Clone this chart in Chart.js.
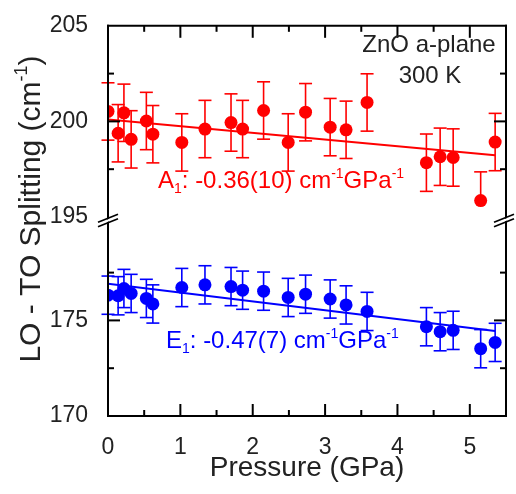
<!DOCTYPE html>
<html>
<head>
<meta charset="utf-8">
<script src="https://cdn.jsdelivr.net/npm/chart.js@4"></script>
<style>
  html, body { margin: 0; padding: 0; background: #fff; }
  #wrap { width: 516px; height: 494px; }
</style>
</head>
<body>
<div id="wrap"><canvas id="chart" width="516" height="494"></canvas></div>
<script>
// Pressure points (GPa), same for both modes
const pressure = [0.00, 0.14, 0.22, 0.32, 0.53, 0.62, 1.02, 1.34, 1.70, 1.86, 2.15,
                  2.49, 2.73, 3.07, 3.29, 3.58, 4.40, 4.59, 4.77, 5.15, 5.35];

// A1 LO-TO splitting (cm-1) and error
const a1Split = [200.52, 199.38, 200.45, 199.06, 200.02, 199.33, 198.90, 199.60, 199.94, 199.60, 200.57,
                 198.90, 200.48, 199.70, 199.56, 200.99, 197.84, 198.15, 198.11, 195.86, 198.92];
const a1Err = [1.5, 1.5, 1.5, 1.5, 1.5, 1.5, 1.5, 1.5, 1.5, 1.5, 1.5,
               1.5, 1.5, 1.5, 1.5, 1.5, 1.5, 1.5, 1.5, 1.5, 1.5];

// E1 LO-TO splitting (cm-1) and error
const e1Split = [176.32, 176.29, 176.67, 176.41, 176.15, 175.86, 176.72, 176.86, 176.77, 176.58, 176.53,
                 176.20, 176.37, 176.12, 175.81, 175.47, 174.67, 174.41, 174.48, 173.52, 173.85];
const e1Err = [1.0, 1.0, 1.0, 1.0, 1.0, 1.0, 1.0, 1.0, 1.0, 1.0, 1.0,
               1.0, 1.0, 1.0, 1.0, 1.0, 1.0, 1.0, 1.0, 1.0, 1.0];

// Linear fits (end points)
const fitPressure = [0, 5.35];
const a1Fit = [200.10, 198.23];
const e1Fit = [176.92, 174.45];

// Tick values
const xTicks = [0, 0.5, 1, 1.5, 2, 2.5, 3, 3.5, 4, 4.5, 5, 5.5];
const yTopTicks = [195, 197.5, 200, 202.5, 205];
const yBotTicks = [170, 172.5, 175, 177.5];

// Texts
const sampleLabel = ['ZnO a-plane', '300 K'];
const a1Label = [['A', ''], ['1', 'sub'], [': -0.36(10) cm', ''], ['-1', 'sup'], ['GPa', ''], ['-1', 'sup']];
const e1Label = [['E', ''], ['1', 'sub'], [': -0.47(7) cm', ''], ['-1', 'sup'], ['GPa', ''], ['-1', 'sup']];
const yTitle = [['LO - TO Splitting (cm', ''], ['-1', 'sup'], [')', '']];

const FAMILY = '"Liberation Sans", Arial, sans-serif';
Chart.defaults.font.family = FAMILY;
Chart.defaults.color = '#222';

const pts = (xs, ys) => xs.map((x, i) => ({ x: x, y: ys[i] }));

function drawRich(ctx, parts, x, y, size, color, align) {
  const fontFor = m => (m ? Math.round(size * 0.6) : size) + 'px ' + FAMILY;
  let w = 0;
  parts.forEach(([t, m]) => { ctx.font = fontFor(m); w += ctx.measureText(t).width; });
  let cx = align === 'center' ? x - w / 2 : x;
  ctx.fillStyle = color;
  ctx.textAlign = 'left';
  ctx.textBaseline = 'alphabetic';
  parts.forEach(([t, m]) => {
    ctx.font = fontFor(m);
    const dy = m === 'sup' ? -size * 0.42 : (m === 'sub' ? size * 0.22 : 0);
    ctx.fillText(t, cx, y + dy);
    cx += ctx.measureText(t).width;
  });
}

function line(ctx, x1, y1, x2, y2) {
  ctx.beginPath();
  ctx.moveTo(x1, y1);
  ctx.lineTo(x2, y2);
  ctx.stroke();
}

// error bars under the points; a half that leaves its axis segment is left out
const errorBars = {
  id: 'errorBars',
  beforeDatasetsDraw(chart) {
    const ctx = chart.ctx;
    chart.data.datasets.forEach(ds => {
      if (!ds.errors) return;
      const ys = chart.scales[ds.yAxisID];
      const xs = chart.scales.x;
      ctx.save();
      ctx.strokeStyle = ds.backgroundColor;
      ctx.lineWidth = 1.6;
      ds.data.forEach((p, j) => {
        const px = xs.getPixelForValue(p.x);
        const py = ys.getPixelForValue(p.y);
        const hi = p.y + ds.errors[j];
        const lo = p.y - ds.errors[j];
        if (hi <= ys.max) {
          const yHi = ys.getPixelForValue(hi);
          line(ctx, px, yHi, px, py);
          line(ctx, px - 6.5, yHi, px + 6.5, yHi);
        }
        if (lo >= ys.min) {
          const yLo = ys.getPixelForValue(lo);
          line(ctx, px, py, px, yLo);
          line(ctx, px - 6.5, yLo, px + 6.5, yLo);
        }
      });
      ctx.restore();
    });
  }
};

// frame, inward ticks, axis break, labels
const frame = {
  id: 'frame',
  afterDraw(chart) {
    const ctx = chart.ctx;
    const { left, right, top, bottom } = chart.chartArea;
    const xs = chart.scales.x, yt = chart.scales.yTop, yb = chart.scales.yBot;
    ctx.save();
    ctx.strokeStyle = '#000';
    ctx.lineWidth = 2;
    ctx.lineCap = 'square';
    line(ctx, left, top, right, top);
    line(ctx, left, bottom, right, bottom);
    line(ctx, left, top, left, bottom);
    line(ctx, right, top, right, bottom);
    ctx.lineCap = 'butt';
    xTicks.forEach(v => {
      if (v <= xs.min || v >= xs.max) return;
      const px = xs.getPixelForValue(v);
      const len = Number.isInteger(v) ? 12 : 6;
      line(ctx, px, bottom, px, bottom - len);
      line(ctx, px, top, px, top + len);
    });
    [[yt, yTopTicks], [yb, yBotTicks]].forEach(([s, ticks]) => {
      ticks.forEach(v => {
        if (v <= s.min || v >= s.max) return;
        const py = s.getPixelForValue(v);
        const len = v % 5 === 0 ? 12 : 6;
        line(ctx, left, py, left + len, py);
        line(ctx, right, py, right - len, py);
      });
    });
    // axis break marks
    const cy = yt.bottom + 3.5;
    [left, right - 2].forEach(cx => {
      const g = 2.2;
      ctx.fillStyle = '#fff';
      ctx.beginPath();
      ctx.moveTo(cx - 10, cy + 4 - g + 1);
      ctx.lineTo(cx + 10, cy - 4 - g + 1);
      ctx.lineTo(cx + 10, cy - 4 + g - 1);
      ctx.lineTo(cx - 10, cy + 4 + g - 1);
      ctx.closePath();
      ctx.fill();
      ctx.lineWidth = 1.6;
      line(ctx, cx - 10, cy + 4 - g, cx + 10, cy - 4 - g);
      line(ctx, cx - 10, cy + 4 + g, cx + 10, cy - 4 + g);
    });
    // texts
    ctx.font = '24px ' + FAMILY;
    ctx.fillStyle = '#222';
    ctx.textAlign = 'center';
    ctx.textBaseline = 'alphabetic';
    ctx.fillText(sampleLabel[0], 429, 52);
    ctx.fillText(sampleLabel[1], 430, 83);
    drawRich(ctx, a1Label, 158, 188, 24, '#ff0000', 'left');
    drawRich(ctx, e1Label, 166, 348, 24, '#0000ff', 'left');
    ctx.translate(40, 209);
    ctx.rotate(-Math.PI / 2);
    drawRich(ctx, yTitle, 0, 0, 30, '#222', 'center');
    ctx.restore();
  }
};

const yCommon = {
  type: 'linear',
  position: 'left',
  stack: 'split',
  grid: { display: false },
  border: { display: false },
  afterFit: s => { s.width = 108; },
  ticks: {
    autoSkip: false,
    padding: 12,
    font: { size: 23 },
    color: '#222',
    callback: v => (v % 5 === 0 ? String(v) : '')
  }
};

new Chart(document.getElementById('chart'), {
  type: 'scatter',
  data: {
    datasets: [
      {
        label: 'A1',
        data: pts(pressure, a1Split),
        errors: a1Err,
        yAxisID: 'yTop',
        backgroundColor: '#ff0000',
        borderWidth: 0,
        pointRadius: 6.5,
        order: 1
      },
      {
        label: 'A1 fit',
        data: pts(fitPressure, a1Fit),
        yAxisID: 'yTop',
        showLine: true,
        borderColor: '#ff0000',
        borderWidth: 2,
        pointRadius: 0,
        order: 2
      },
      {
        label: 'E1',
        data: pts(pressure, e1Split),
        errors: e1Err,
        yAxisID: 'yBot',
        backgroundColor: '#0000ff',
        borderWidth: 0,
        pointRadius: 6.5,
        order: 1
      },
      {
        label: 'E1 fit',
        data: pts(fitPressure, e1Fit),
        yAxisID: 'yBot',
        showLine: true,
        borderColor: '#0000ff',
        borderWidth: 2,
        pointRadius: 0,
        order: 2
      }
    ]
  },
  options: {
    responsive: false,
    animation: false,
    layout: { padding: { top: 19, right: 9, left: 0, bottom: 0 } },
    plugins: { legend: { display: false }, tooltip: { enabled: false } },
    scales: {
      x: {
        type: 'linear',
        min: 0,
        max: 5.5,
        grid: { display: false },
        border: { display: false },
        afterFit: s => { s.height = 78; },
        afterBuildTicks: s => { s.ticks = xTicks.map(v => ({ value: v })); },
        ticks: {
          autoSkip: false,
          maxRotation: 0,
          padding: 10,
          font: { size: 23 },
          color: '#222',
          callback: v => (Number.isInteger(v) ? String(v) : '')
        },
        title: {
          display: true,
          text: 'Pressure (GPa)',
          font: { size: 28 },
          color: '#222',
          padding: { top: 0, bottom: 9 }
        }
      },
      // stacked axes are placed bottom-up in this order
      yBot: Object.assign({}, yCommon, {
        min: 170,
        max: 180.41,
        stackWeight: 10.41,
        afterBuildTicks: s => { s.ticks = yBotTicks.map(v => ({ value: v })); }
      }),
      yTop: Object.assign({}, yCommon, {
        min: 195,
        max: 205,
        stackWeight: 10,
        afterBuildTicks: s => { s.ticks = yTopTicks.map(v => ({ value: v })); }
      })
    }
  },
  plugins: [errorBars, frame]
});
</script>
</body>
</html>
